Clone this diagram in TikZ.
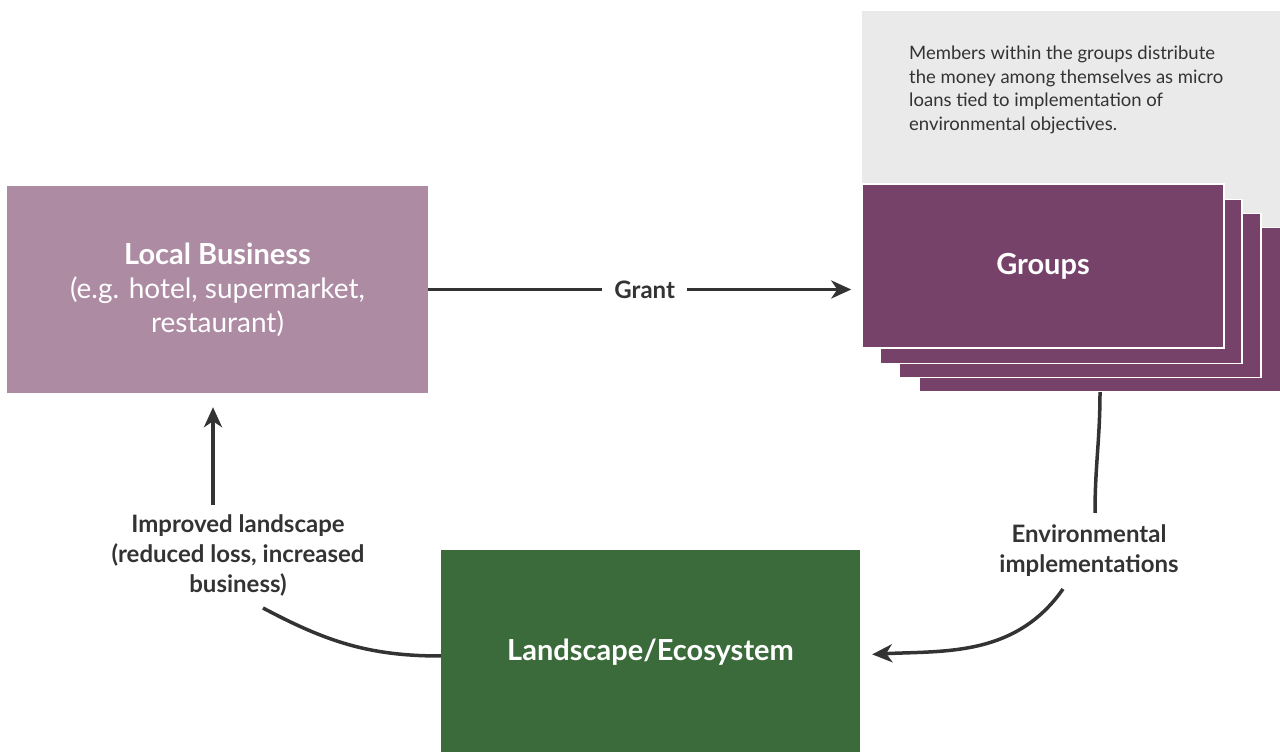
\documentclass[tikz,border=0pt]{standalone}
\usepackage{fontspec}
\setmainfont{Lato}
\usetikzlibrary{arrows.meta}
\definecolor{lbcol}{HTML}{AC8BA3}
\definecolor{grpcol}{HTML}{77426A}
\definecolor{lscol}{HTML}{3B6A3B}
\definecolor{notecol}{HTML}{EAEAEA}
\definecolor{inkcol}{HTML}{333333}
\tikzset{
  box/.style={rectangle, inner sep=0pt, text=white, align=center},
  grpbox/.style={box, fill=grpcol, draw=white, line width=1.5pt, minimum width=362pt, minimum height=164pt},
  lbl/.style={font=\bfseries\fontsize{24}{30}\selectfont, text=inkcol, align=center, inner sep=0pt},
  conn/.style={draw=inkcol, line width=3.5pt},
  arr/.style={conn, -{Stealth[length=20pt, width=18pt, inset=6pt]}},
}
\begin{document}
\begin{tikzpicture}[x=1pt, y=1pt]
\useasboundingbox (0,0) rectangle (1280,752);
% note background and text
\node[box, fill=notecol, minimum width=418pt, minimum height=220pt] (notebg) at (1071,631) {};
\node[anchor=north west, align=left, inner sep=0pt, text=inkcol,
      font=\fontsize{18.5}{23.5}\selectfont] (note) at (909,706)
  {Members within the groups distribute\\the money among themselves as micro\\loans tied to implementation of\\environmental objectives.};
% groups stack
\node[grpbox] (g4) at (1100,442.5) {};
\node[grpbox] (g3) at (1080,456.5) {};
\node[grpbox] (g2) at (1061,470.5) {};
\node[grpbox, font=\bfseries\fontsize{29}{34}\selectfont] (g1) at (1043,486) {Groups};
% local business
\node[box, fill=lbcol, minimum width=421pt, minimum height=207pt,
      font=\fontsize{28}{34}\selectfont] (lb) at (217.5,462.5)
  {{\bfseries\fontsize{29}{34}\selectfont Local Business}\\(e.g. hotel, supermarket,\\restaurant)};
% landscape
\node[box, fill=lscol, minimum width=419pt, minimum height=204pt,
      font=\bfseries\fontsize{29}{34}\selectfont] (ls) at (650.5,100) {Landscape/Ecosystem};
% labels
\node[lbl] (env) at (1089,201) {Environmental\\implementations};
\node[lbl] (imp) at (238,197) {Improved landscape\\(reduced loss, increased\\business)};
% connector helper coordinates
\coordinate (e1) at (1095,239);
\coordinate (e2) at (1063,163);
\coordinate (i1) at (263,144);
\coordinate (i2) at (213,247);
% connectors
\draw[arr, shorten >=10pt] (lb.east) -- node[lbl, fill=white, inner xsep=12pt, inner ysep=4pt] {Grant} (lb.east -| g1.west);
\draw[conn] (g4.south) to[out=-90, in=90] (e1);
\draw[arr, shorten >=12pt] (e2) to[out=-125, in=3] ([yshift=-3pt]ls.east);
\draw[conn] ([yshift=-4pt]ls.west) to[out=180, in=-28] (i1);
\draw[arr, shorten >=14pt] (i2) -- (i2 |- lb.south);
\end{tikzpicture}
\end{document}
